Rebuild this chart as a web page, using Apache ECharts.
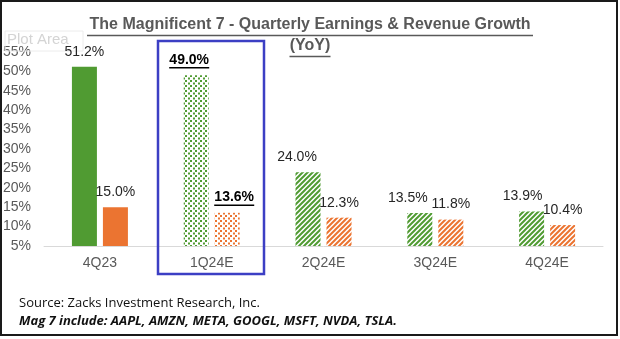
<!DOCTYPE html>
<html>
<head>
<meta charset="utf-8">
<script src="https://cdn.jsdelivr.net/npm/echarts@6/dist/echarts.min.js"></script>
<style>
html,body{margin:0;padding:0;background:#fff;}
#c{width:620px;height:339px;}
</style>
</head>
<body>
<div id="c"></div>
<script>
// ---- data ----
const categories = ['4Q23', '1Q24E', '2Q24E', '3Q24E', '4Q24E'];
const earningsGrowth = [51.2, 49.0, 24.0, 13.5, 13.9];
const revenueGrowth = [15.0, 13.6, 12.3, 11.8, 10.4];
const yTicks = [5, 10, 15, 20, 25, 30, 35, 40, 45, 50, 55];
const titleLine1 = 'The Magnificent 7 - Quarterly Earnings & Revenue Growth';
const titleLine2 = '(YoY)';
const sourceText = 'Source: Zacks Investment Research, Inc.';
const noteText = 'Mag 7 include: AAPL, AMZN, META, GOOGL, MSFT, NVDA, TSLA.';

// ---- styles ----
const GREEN = '#509b32';
const ORANGE = '#eb7431';

function dotPattern(color) {
  const s = 5;
  const c = document.createElement('canvas');
  c.width = s; c.height = s;
  const g = c.getContext('2d');
  g.fillStyle = '#fff'; g.fillRect(0, 0, s, s);
  g.fillStyle = color;
  g.fillRect(0, 0, 2, 2);
  g.fillRect(3, 2.5, 2, 2);
  return { image: c, repeat: 'repeat' };
}
function stripePattern(color) {
  const s = 5;
  const c = document.createElement('canvas');
  c.width = s; c.height = s;
  const g = c.getContext('2d');
  g.fillStyle = '#fff'; g.fillRect(0, 0, s, s);
  g.strokeStyle = color; g.lineWidth = 2;
  g.beginPath();
  g.moveTo(-1, s + 1); g.lineTo(s + 1, -1);
  g.moveTo(-1, 1); g.lineTo(1, -1);
  g.moveTo(s - 1, s + 1); g.lineTo(s + 1, s - 1);
  g.stroke();
  return { image: c, repeat: 'repeat' };
}

const greenOffsets = [0, -7, -11, -12, -9];
const orangeOffsets = [0, 7, 0, 0, 0];

function buildSeriesData(values, color, offsets) {
  return values.map((v, i) => {
    let fill = color;
    if (i === 1) fill = dotPattern(color);
    else if (i >= 2) fill = stripePattern(color);
    const item = { value: v, itemStyle: { color: fill } };
    if (i === 1) {
      item.label = {
        formatter: (p) => '{b|' + p.value.toFixed(1) + '%}\n{u|}',
        offset: [offsets[i], 0],
        distance: 6
      };
    } else {
      item.label = { offset: [offsets[i], 0] };
    }
    return item;
  });
}

const labelCommon = {
  show: true,
  position: 'top',
  distance: 8,
  fontFamily: 'Liberation Sans, Arial, sans-serif',
  fontSize: 14,
  color: '#262626',
  formatter: (p) => p.value.toFixed(1) + '%',
  rich: {
    b: { fontFamily: 'Liberation Sans, Arial, sans-serif', fontSize: 14, fontWeight: 'bold', color: '#000', lineHeight: 12 },
    u: { width: 40, height: 1.5, backgroundColor: '#000', lineHeight: 3 }
  }
};

const chart = echarts.init(document.getElementById('c'), null, { renderer: 'canvas' });
chart.setOption({
  backgroundColor: '#fff',
  animation: false,
  title: {
    left: 'center',
    top: 12,
    text: '{t|' + titleLine1 + '}\n{u1|}\n{t|' + titleLine2 + '}\n{u2|}',
    textStyle: {
      rich: {
        t: { fontFamily: 'Liberation Sans, Arial, sans-serif', fontSize: 16, fontWeight: 'bold', color: '#595959', lineHeight: 16, align: 'center' },
        u1: { width: 446, height: 1.5, backgroundColor: '#595959', lineHeight: 5, align: 'center' },
        u2: { width: 41, height: 1.5, backgroundColor: '#595959', lineHeight: 5, align: 'center' }
      }
    }
  },
  grid: { left: 43, right: 17, top: 52, bottom: 93 },
  xAxis: {
    type: 'category',
    data: categories,
    axisLine: { lineStyle: { color: '#d9d9d9', width: 1 } },
    axisTick: { show: false },
    axisLabel: { color: '#595959', fontFamily: 'Liberation Sans, Arial, sans-serif', fontSize: 14, margin: 10 }
  },
  yAxis: {
    type: 'value',
    min: yTicks[0],
    max: yTicks[yTicks.length - 1],
    interval: yTicks[1] - yTicks[0],
    splitLine: { show: false },
    axisLine: { show: false },
    axisTick: { show: false },
    axisLabel: { color: '#595959', fontFamily: 'Liberation Sans, Arial, sans-serif', fontSize: 14, margin: 13, formatter: '{value}%' }
  },
  series: [
    {
      name: 'Earnings',
      type: 'bar',
      data: buildSeriesData(earningsGrowth, GREEN, greenOffsets),
      barWidth: 25,
      barGap: '24%',
      label: labelCommon
    },
    {
      name: 'Revenue',
      type: 'bar',
      data: buildSeriesData(revenueGrowth, ORANGE, orangeOffsets),
      barWidth: 25,
      label: labelCommon
    }
  ],
  graphic: [
    { type: 'rect', shape: { x: 1, y: 1, width: 616, height: 334 }, style: { fill: 'none', stroke: '#1a1a1a', lineWidth: 2 }, z: 100 },
    { type: 'rect', shape: { x: 5, y: 31, width: 78, height: 20 }, style: { fill: 'none', stroke: '#ececec', lineWidth: 1 }, z: 1 },
    { type: 'text', left: 7, top: 32, style: { text: 'Plot Area', fill: '#d4d4d4', font: '15px "Liberation Sans", Arial, sans-serif' }, z: 1 },
    { type: 'rect', shape: { x: 158, y: 41, width: 106, height: 233 }, style: { fill: 'none', stroke: '#3c3fc4', lineWidth: 2.5 }, z: 50 },
    { type: 'text', left: 19, top: 297, style: { text: sourceText, fill: '#111', font: '13px "Open Sans", sans-serif' } },
    { type: 'text', left: 19, top: 315, style: { text: noteText, fill: '#111', font: 'italic bold 13px "Open Sans", sans-serif' } }
  ]
});
</script>
</body>
</html>
